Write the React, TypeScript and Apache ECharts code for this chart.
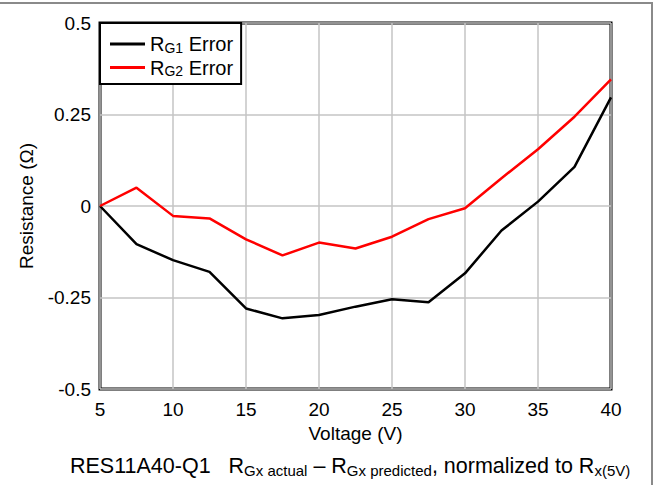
import React, { useEffect, useRef } from "react";
import * as echarts from "echarts";

const voltage = [5, 7.5, 10, 12.5, 15, 17.5, 20, 22.5, 25, 27.5, 30, 32.5, 35, 37.5, 40];
const rg1Error = [0, -0.104, -0.148, -0.18, -0.28, -0.307, -0.298, -0.275, -0.255, -0.263, -0.184, -0.067, 0.012, 0.107, 0.297];
const rg2Error = [0, 0.05, -0.027, -0.034, -0.091, -0.135, -0.1, -0.116, -0.084, -0.036, -0.006, 0.076, 0.155, 0.244, 0.346];
const seriesNames = ["RG1 Error", "RG2 Error"];
const seriesColors = ["#000000", "#ff0000"];

const FONT = "'Liberation Sans', Arial, sans-serif";

export default function App() {
  const ref = useRef<HTMLDivElement>(null);
  useEffect(() => {
    const chart = echarts.init(ref.current!, null, { renderer: "svg" });
    chart.setOption({
      animation: false,
      backgroundColor: "#fff",
      grid: {
        left: 100,
        top: 23,
        width: 511,
        height: 366,
        show: true,
        borderColor: "#000",
        borderWidth: 3,
        backgroundColor: "transparent",
      },
      legend: {
        left: 100,
        top: 23,
        orient: "vertical",
        data: seriesNames,
        icon: "rect",
        itemWidth: 35,
        itemHeight: 3,
        itemGap: 3,
        padding: [11, 8, 6, 10],
        backgroundColor: "#fff",
        borderColor: "#000",
        borderWidth: 2,
        formatter: (name: string) => {
          const s = name.slice(1, 3);
          return `{a|R}{s|${s}}{a| Error}`;
        },
        textStyle: {
          rich: {
            a: { fontSize: 20, fontFamily: FONT, color: "#000" },
            s: { fontSize: 14, fontFamily: FONT, color: "#000", padding: [7, 0, 0, 0] },
          },
        },
      },
      xAxis: {
        type: "value",
        min: 5,
        max: 40,
        interval: 5,
        name: "Voltage (V)",
        nameLocation: "middle",
        nameGap: 34,
        nameTextStyle: { fontSize: 19, fontFamily: FONT, color: "#000" },
        axisLine: { show: false },
        axisTick: { show: false },
        axisLabel: { fontSize: 19, fontFamily: FONT, color: "#000", margin: 11 },
        splitLine: { show: true, lineStyle: { color: "#c4c4c4", width: 1.5 } },
      },
      yAxis: {
        type: "value",
        min: -0.5,
        max: 0.5,
        interval: 0.25,
        name: "Resistance (Ω)",
        nameLocation: "middle",
        nameGap: 64,
        nameTextStyle: { fontSize: 19, fontFamily: FONT, color: "#000" },
        axisLine: { show: false },
        axisTick: { show: false },
        axisLabel: { fontSize: 19, fontFamily: FONT, color: "#000", margin: 9 },
        splitLine: { show: true, lineStyle: { color: "#c4c4c4", width: 1.5 } },
      },
      series: [rg1Error, rg2Error].map((vals, i) => ({
        name: seriesNames[i],
        type: "line",
        data: voltage.map((v, j) => [v, vals[j]]),
        symbol: "none",
        lineStyle: { color: seriesColors[i], width: 2.5 },
        itemStyle: { color: seriesColors[i] },
        z: 3 + i,
      })),
      graphic: [
        {
          type: "rect",
          shape: { x: -5, y: 3, width: 657, height: 500 },
          style: { fill: "none", stroke: "#8a8a8a", lineWidth: 2 },
          silent: true,
        },
        {
          type: "text",
          left: 70,
          top: 455,
          style: {
            text: "{a|RES11A40-Q1   R}{s|Gx actual}{a| – R}{s|Gx predicted}{a|, normalized to R}{s|x(5V)}",
            rich: {
              a: { fontSize: 21.5, fontFamily: FONT, color: "#000" },
              s: { fontSize: 15, fontFamily: FONT, color: "#000", padding: [9, 0, 0, 0] },
            },
          },
        },
      ],
    });
    return () => chart.dispose();
  }, []);
  return (
    <div
      ref={ref}
      style={{ position: "fixed", left: 0, top: 0, width: 656, height: 485 }}
    />
  );
}
